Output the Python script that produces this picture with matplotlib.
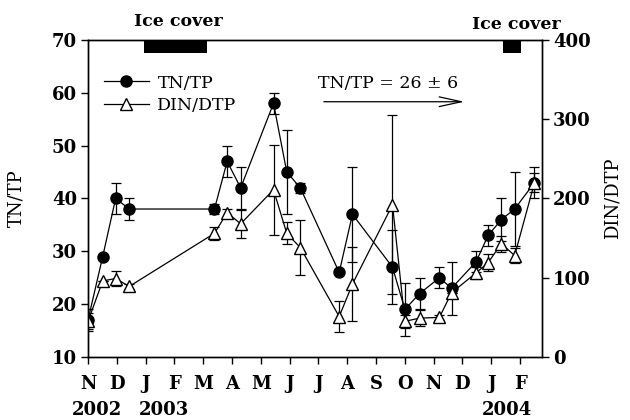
import numpy as np
import matplotlib.pyplot as plt
from matplotlib.lines import Line2D

plt.rcParams['font.family'] = ['DejaVu Serif']

# months since 1 Nov 2002
months = ['N', 'D', 'J', 'F', 'M', 'A', 'M', 'J', 'J', 'A', 'S', 'O', 'N', 'D', 'J', 'F']
years = ['2002', '2003', '2004']
year_pos = [0.31, 2.63, 14.53]

x = [0.0, 0.51, 0.96, 1.43, 4.39, 4.83, 5.30, 6.44, 6.90, 7.37, 8.72,
     9.18, 10.57, 11.00, 11.51, 12.20, 12.62, 13.47, 13.89, 14.35, 14.81, 15.50]
tn_tp = [17, 29, 40, 38, 38, 47, 42, 58, 45, 42, 26,
         37, 27, 19, 22, 25, 23, 28, 33, 36, 38, 43]
tn_tp_err = [2, 0, 3, 2, 1, 3, 4, 2, 8, 1, 0,
             9, 7, 5, 3, 2, 5, 2, 2, 4, 7, 3]
din_dtp = [45, 96, 99, 89, 156, 182, 168, 211, 156, 138, 51,
           92, 192, 45, 49, 50, 81, 106, 119, 143, 128, 220]
din_dtp_err = [10, 0, 10, 3, 8, 5, 18, 57, 14, 35, 20,
               47, 113, 8, 10, 3, 0, 8, 11, 10, 10, 12]

ice_start = [1.94, 14.40]
ice_end = [4.14, 15.04]

fig = plt.figure(figsize=(6.3, 4.2), dpi=100)
ax = fig.add_axes([0.1397, 0.150, 0.7206, 0.755])
ax2 = ax.twinx()

ax.errorbar(x, tn_tp, yerr=tn_tp_err, fmt='-o', color='black', lw=0.9,
            ms=8, mfc='black', mec='black', elinewidth=0.9, capsize=3.6,
            capthick=0.9)
ax2.errorbar(x, din_dtp, yerr=din_dtp_err, fmt='-^', color='black', lw=0.9,
             ms=9, mfc='white', mec='black', elinewidth=0.9, capsize=3.6,
             capthick=0.9)

ax.set_xlim(0, 15.76)
ax.set_ylim(10, 70)
ax2.set_ylim(0, 400)
ax.set_yticks(range(10, 71, 10))
ax2.set_yticks(range(0, 401, 100))
ax.set_xticks(range(len(months)))
ax.set_xticklabels(months)

for a in (ax, ax2):
    a.tick_params(direction='out', length=5, width=1, labelsize=13, pad=3)
    for lab in a.get_yticklabels() + a.get_xticklabels():
        lab.set_fontweight('bold')
    for s in a.spines.values():
        s.set_linewidth(1)
ax.tick_params(axis='x', pad=8)

ax.set_ylabel('TN/TP', fontsize=13)
ax2.set_ylabel('DIN/DTP', fontsize=13)
ax.yaxis.set_label_coords(-0.138, 0.5)
ax2.yaxis.set_label_coords(1.135, 0.5)

for yr, xp in zip(years, year_pos):
    ax.text(xp, -0.167, yr, transform=ax.get_xaxis_transform(), ha='center',
            va='center', fontsize=13, fontweight='bold')

for s, e in zip(ice_start, ice_end):
    ax.axvspan(s, e, ymin=0.96, ymax=1.0, color='black', lw=0)
ax.text(3.13, 1.057, 'Ice cover', transform=ax.get_xaxis_transform(),
        ha='center', va='center', fontsize=12.5, fontweight='semibold')
ax.text(14.86, 1.05, 'Ice cover', transform=ax.get_xaxis_transform(),
        ha='center', va='center', fontsize=12.5, fontweight='semibold')

ax.text(8.0, 61.7, 'TN/TP = 26 ± 6', fontsize=12.5, va='center', ha='left')
ax.annotate('', xy=(13.16, 58.3), xytext=(8.09, 58.3),
            arrowprops=dict(arrowstyle='->,head_length=1.6,head_width=0.35',
                            lw=0.9, color='black'))

h1 = Line2D([], [], color='black', lw=0.9, marker='o', ms=8, mfc='black')
h2 = Line2D([], [], color='black', lw=0.9, marker='^', ms=9, mfc='white')
ax2.legend([h1, h2], ['TN/TP', 'DIN/DTP'], loc='upper left',
           bbox_to_anchor=(0.0, 0.94), frameon=False, fontsize=12.5,
           handlelength=2.6, handletextpad=0.5, labelspacing=0.3)

fig.savefig('out.png', dpi=100)
